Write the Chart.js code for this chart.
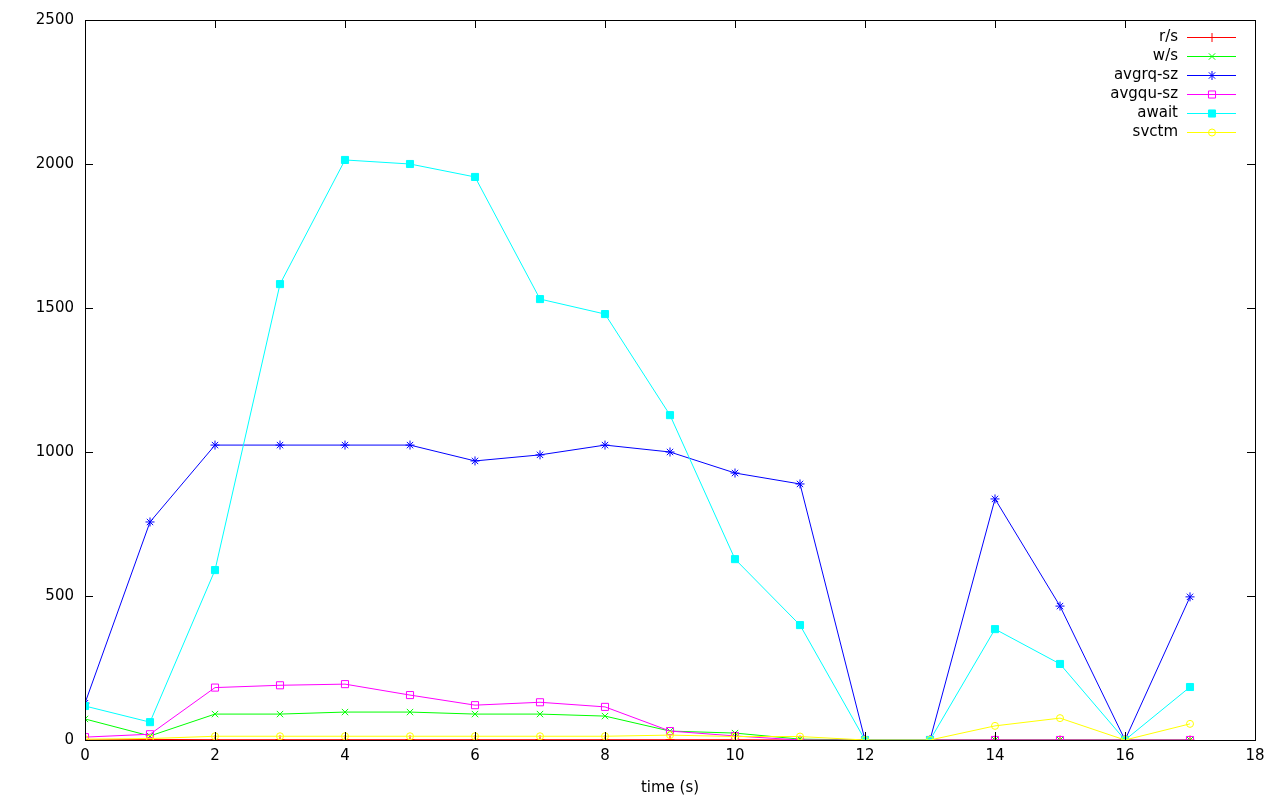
<!DOCTYPE html>
<html>
<head>
<meta charset="utf-8">
<script src="https://cdn.jsdelivr.net/npm/chart.js@4/dist/chart.umd.min.js"></script>
<style>
  html, body { margin: 0; padding: 0; background: #fff; }
  #wrap { width: 1280px; height: 800px; }
</style>
</head>
<body>
<div id="wrap"><canvas id="ioChart" width="1280" height="800"></canvas></div>
<script>
// iostat samples, one per second
var times    = [0, 1, 2, 3, 4, 5, 6, 7, 8, 9, 10, 11, 12, 13, 14, 15, 16, 17];
var rs       = [0, 2, 1, 1, 1, 1, 1, 1, 1, 1, 1, 0, 0, 0, 0, 0, 0, 0];
var ws       = [73, 14, 90, 90, 97, 97, 90, 90, 83, 31, 24, 3, 0, 0, 0, 0, 0, 0];
var avgrqsz  = [128, 757, 1024, 1024, 1024, 1024, 969, 990, 1024, 1000, 927, 889, 0, 0, 837, 465, 0, 497];
var avgqusz  = [10, 20, 182, 190, 194, 156, 121, 131, 115, 31, 14, 0, 0, 0, 0, 0, 0, 0];
var await_ms = [118, 62, 590, 1583, 2014, 2000, 1955, 1531, 1479, 1128, 628, 399, 0, 0, 385, 264, 0, 184];
var svctm    = [3, 5, 13, 13, 13, 13, 13, 13, 13, 17, 12, 12, 0, 0, 49, 76, 0, 56];

var xTicks = [0, 2, 4, 6, 8, 10, 12, 14, 16, 18];
var yTicks = [0, 500, 1000, 1500, 2000, 2500];

var FONT = '"DejaVu Sans", sans-serif';

function pts(arr) {
    return arr.map(function(v, i) { return {x: times[i], y: v}; });
}

var series = [
    {label: 'r/s',      data: rs,       color: '#ff0000', style: 'cross',    r: 4.5, fill: false},
    {label: 'w/s',      data: ws,       color: '#00ff00', style: 'crossRot', r: 4.5, fill: false},
    {label: 'avgrq-sz', data: avgrqsz,  color: '#0000ff', style: 'star',     r: 4.5, fill: false},
    {label: 'avgqu-sz', data: avgqusz,  color: '#ff00ff', style: 'rect',     r: 5, fill: false},
    {label: 'await',    data: await_ms, color: '#00ffff', style: 'rect',     r: 5, fill: true},
    {label: 'svctm',    data: svctm,    color: '#ffff00', style: 'circle',   r: 3.5, fill: false}
];

var datasets = series.map(function(s, i) {
    return {
        label: s.label,
        data: pts(s.data),
        borderColor: s.color,
        backgroundColor: s.fill ? s.color : 'rgba(0,0,0,0)',
        pointBorderColor: s.color,
        pointBackgroundColor: s.fill ? s.color : 'rgba(0,0,0,0)',
        pointStyle: s.style,
        pointRadius: s.r,
        pointBorderWidth: 1,
        borderWidth: 1,
        tension: 0,
        order: series.length - 1 - i
    };
});

// gnuplot style frame with inward ticks on every side
var framePlugin = {
    id: 'frame',
    afterDatasetsDraw: function(chart) {
        var ctx = chart.ctx, a = chart.chartArea;
        var xs = chart.scales.x, ys = chart.scales.y;
        ctx.save();
        ctx.strokeStyle = '#000';
        ctx.lineWidth = 1;
        ctx.beginPath();
        xTicks.forEach(function(t) {
            var px = Math.round(xs.getPixelForValue(t)) + 0.5;
            ctx.moveTo(px, a.bottom); ctx.lineTo(px, a.bottom - 8);
            ctx.moveTo(px, a.top); ctx.lineTo(px, a.top + 8);
        });
        yTicks.forEach(function(t) {
            var py = Math.round(ys.getPixelForValue(t)) + 0.5;
            ctx.moveTo(a.left, py); ctx.lineTo(a.left + 8, py);
            ctx.moveTo(a.right, py); ctx.lineTo(a.right - 8, py);
        });
        ctx.stroke();
        ctx.strokeRect(Math.round(a.left) + 0.5, Math.round(a.top) + 0.5,
                       Math.round(a.right - a.left), Math.round(a.bottom - a.top));
        ctx.restore();
    }
};

// key in the top right corner: label, then line sample with marker
var keyPlugin = {
    id: 'key',
    afterDraw: function(chart) {
        var ctx = chart.ctx;
        ctx.save();
        ctx.font = '15px ' + FONT;
        ctx.textAlign = 'right';
        ctx.textBaseline = 'middle';
        chart.data.datasets.forEach(function(ds, i) {
            var y = 37.5 + i * 19;
            ctx.fillStyle = '#000';
            ctx.fillText(ds.label, 1178, y);
            ctx.strokeStyle = ds.borderColor;
            ctx.lineWidth = 1;
            ctx.beginPath();
            ctx.moveTo(1187, y); ctx.lineTo(1236, y);
            ctx.stroke();
            ctx.fillStyle = ds.pointBackgroundColor;
            Chart.helpers.drawPoint(ctx, {
                pointStyle: ds.pointStyle,
                radius: ds.pointRadius,
                rotation: 0,
                borderWidth: 1
            }, 1212, y);
        });
        ctx.restore();
    }
};

var ctx = document.getElementById('ioChart').getContext('2d');

var ioChart = new Chart(ctx, {
    type: 'line',
    data: { datasets: datasets },
    plugins: [framePlugin, keyPlugin],
    options: {
        responsive: false,
        animation: false,
        layout: { padding: { top: 20, right: 25, left: 0, bottom: 0 } },
        plugins: {
            legend: { display: false },
            tooltip: { enabled: false }
        },
        scales: {
            x: {
                type: 'linear',
                min: 0,
                max: 18,
                afterFit: function(scale) { scale.height = 60; },
                afterBuildTicks: function(scale) {
                    scale.ticks = xTicks.map(function(v) { return {value: v}; });
                },
                grid: { display: false, drawTicks: false },
                border: { display: false },
                ticks: {
                    padding: 7,
                    color: '#000',
                    callback: function(v) { return String(v); },
                    font: { family: FONT, size: 15 }
                },
                title: {
                    display: true,
                    text: 'time (s)',
                    color: '#000',
                    padding: { top: 0, bottom: 3 },
                    font: { family: FONT, size: 15 }
                }
            },
            y: {
                type: 'linear',
                min: 0,
                max: 2500,
                afterFit: function(scale) { scale.width = 85; },
                afterBuildTicks: function(scale) {
                    scale.ticks = yTicks.map(function(v) { return {value: v}; });
                },
                grid: { display: false, drawTicks: false },
                border: { display: false },
                ticks: {
                    padding: 11,
                    color: '#000',
                    callback: function(v) { return String(v); },
                    font: { family: FONT, size: 15 }
                }
            }
        }
    }
});
</script>
</body>
</html>
